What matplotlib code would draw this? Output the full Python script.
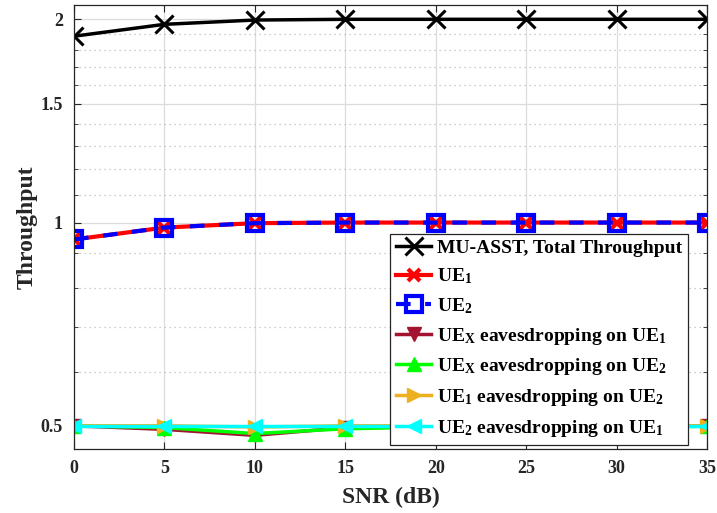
import matplotlib
matplotlib.use("Agg")
import matplotlib.pyplot as plt
import numpy as np
from matplotlib.ticker import FixedLocator, NullFormatter

matplotlib.rcParams['font.family'] = 'Liberation Serif'
matplotlib.rcParams['font.weight'] = 'bold'
matplotlib.rcParams['axes.labelweight'] = 'bold'
matplotlib.rcParams['mathtext.fontset'] = 'custom'
matplotlib.rcParams['mathtext.rm'] = 'Liberation Serif:bold'
matplotlib.rcParams['mathtext.it'] = 'Liberation Serif:bold'
matplotlib.rcParams['mathtext.default'] = 'rm'

snr = [0, 5, 10, 15, 20, 25, 30, 35]
total = [1.888, 1.966, 1.995, 2.0, 2.0, 2.0, 2.0, 2.0]
ue1 = [0.944, 0.983, 0.998, 1.0, 1.0, 1.0, 1.0, 1.0]
ue2 = [0.944, 0.983, 0.998, 1.0, 1.0, 1.0, 1.0, 1.0]
uex_ue1 = [0.5, 0.494, 0.484, 0.497, 0.499, 0.5, 0.5, 0.5]
uex_ue2 = [0.5, 0.497, 0.487, 0.495, 0.498, 0.499, 0.499, 0.499]
ue1_ue2 = [0.5, 0.5, 0.498, 0.5, 0.5, 0.5, 0.5, 0.5]
ue2_ue1 = [0.5, 0.5, 0.5, 0.5, 0.5, 0.5, 0.5, 0.5]

yticks = [0.5, 1, 1.5, 2]
ytick_labels = ['0.5', '1', '1.5', '2']
yminor = [0.6, 0.7, 0.8, 0.9, 1.1, 1.2, 1.3, 1.4, 1.6, 1.7, 1.8, 1.9]


def main():
    fig = plt.figure(figsize=(7.17, 5.13), dpi=100)
    ax = fig.add_axes([74 / 717, 1 - 449 / 513, (707 - 74) / 717, (449 - 5) / 513])

    ax.plot(snr, total, color='black', lw=2.5, marker='x', ms=13, mew=2.2,
            label='MU-ASST, Total Throughput')
    ax.plot(snr, ue1, color='red', lw=3, marker='x', ms=8, mew=3,
            label='UE$_1$')
    ax.plot(snr, ue2, color='blue', lw=3, ls=(0, (3.5, 3.5)), marker='s', ms=11,
            mew=3, mfc='none', label='UE$_2$')
    ax.plot(snr, uex_ue1, color='#A2142F', lw=2.5, marker='v', ms=10,
            label='UE$_X$ eavesdropping on UE$_1$')
    ax.plot(snr, uex_ue2, color='#00FF00', lw=2.5, marker='^', ms=10,
            label='UE$_X$ eavesdropping on UE$_2$')
    ax.plot(snr, ue1_ue2, color='#EDB120', lw=2.5, marker='>', ms=10,
            label='UE$_1$ eavesdropping on UE$_2$')
    ax.plot(snr, ue2_ue1, color='#00FFFF', lw=2.5, marker='<', ms=10,
            label='UE$_2$ eavesdropping on UE$_1$')

    ax.set_yscale('log')
    ax.set_xlim(0, 35)
    ax.set_ylim(0.462, 2.1)
    ax.set_xticks(snr)
    ax.yaxis.set_major_locator(FixedLocator(yticks))
    ax.set_yticklabels(ytick_labels)
    ax.yaxis.set_minor_locator(FixedLocator(yminor))
    ax.yaxis.set_minor_formatter(NullFormatter())

    ax.grid(True, which='major', color='#dcdcdc', lw=0.9, ls='-')
    ax.grid(True, which='minor', axis='y', color='#bdbdbd', lw=0.9, ls=(0, (1, 3)))
    ax.set_axisbelow(True)

    ax.tick_params(direction='in', which='both', top=True, right=True,
                   labelsize=13, colors='#262626', pad=8)
    ax.tick_params(which='major', length=5)
    ax.tick_params(which='minor', length=3)
    for s in ax.spines.values():
        s.set_color('#262626')
        s.set_linewidth(0.9)

    ax.set_xlabel('SNR (dB)', fontsize=17, color='#262626', labelpad=7)
    ax.set_ylabel('Throughput', fontsize=17, color='#262626', labelpad=2)

    leg = ax.legend(loc='lower right', bbox_to_anchor=(0.97, 0.01), fontsize=14,
                    frameon=True, fancybox=False, framealpha=1, edgecolor='#262626',
                    handlelength=1.8, handletextpad=0.3, labelspacing=0.5,
                    borderpad=0.3, borderaxespad=0)
    leg.get_frame().set_linewidth(0.9)

    fig.savefig('out.png', dpi=100)


if __name__ == '__main__':
    main()
